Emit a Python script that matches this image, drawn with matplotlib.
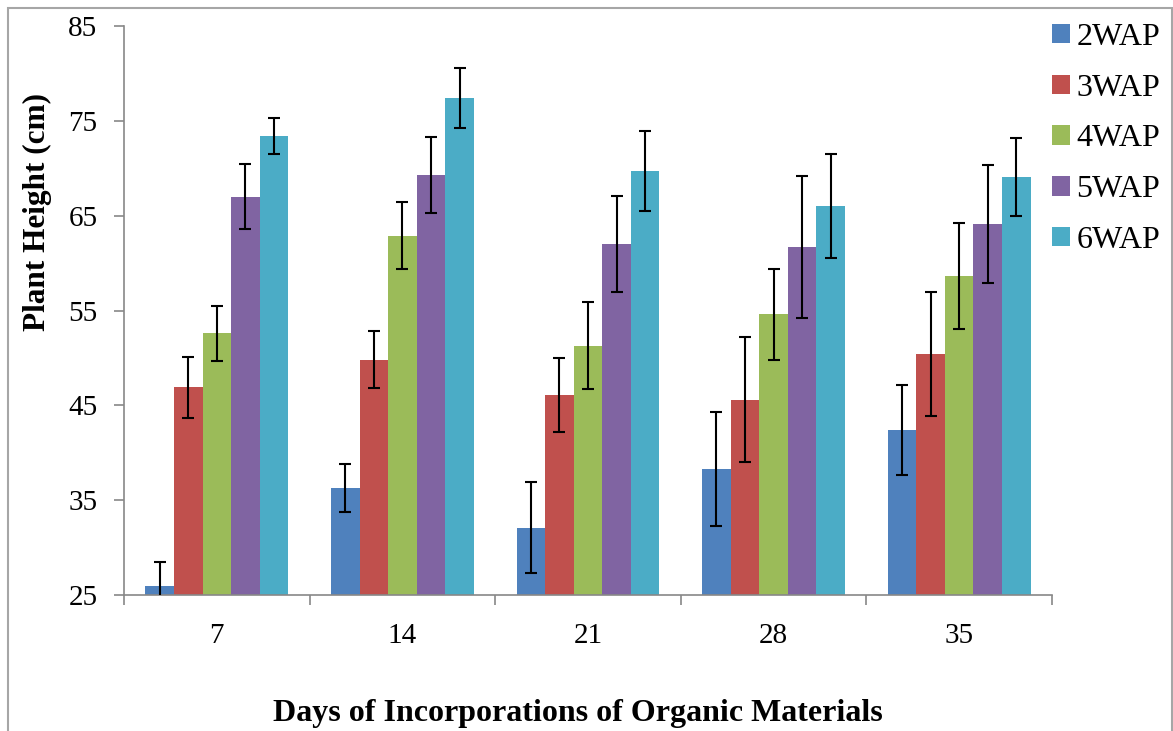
import numpy as np
import matplotlib
matplotlib.use("Agg")
import matplotlib.pyplot as plt
from matplotlib.patches import Rectangle

days = ["7", "14", "21", "28", "35"]
series = ["2WAP", "3WAP", "4WAP", "5WAP", "6WAP"]
colors = ["#4F81BD", "#C0504D", "#9BBB59", "#8064A2", "#4BACC6"]

wap2 = [26.0, 36.3, 32.1, 38.3, 42.4]
wap3 = [46.9, 49.8, 46.1, 45.6, 50.4]
wap4 = [52.6, 62.9, 51.3, 54.6, 58.6]
wap5 = [67.0, 69.3, 62.0, 61.7, 64.1]
wap6 = [73.4, 77.4, 69.7, 66.0, 69.1]

err2 = [2.5, 2.5, 4.8, 6.0, 4.7]
err3 = [3.2, 3.0, 3.9, 6.6, 6.5]
err4 = [2.9, 3.5, 4.6, 4.8, 5.6]
err5 = [3.4, 4.0, 5.1, 7.5, 6.2]
err6 = [1.9, 3.2, 4.2, 5.5, 4.1]

values = [wap2, wap3, wap4, wap5, wap6]
errors = [err2, err3, err4, err5, err6]

plt.rcParams['font.family'] = ['Liberation Serif', 'DejaVu Serif']

W, H = 1173, 731
fig = plt.figure(figsize=(W / 100, H / 100), dpi=100)
ax = fig.add_axes([124 / W, 1 - 595 / H, (1052 - 124) / W, (595 - 26) / H])

# outer chart frame
fig.patches.append(Rectangle((8 / W, -0.05), (1172 - 8) / W, 1 - 8 / H + 0.05,
                             transform=fig.transFigure, fill=False,
                             edgecolor='#a6a6a6', lw=1.5))

x = np.arange(len(days))
bw = 0.154
for i, (vals, errs) in enumerate(zip(values, errors)):
    pos = x + (i - 2) * bw
    ax.bar(pos, [v - 25 for v in vals], bw, bottom=25, color=colors[i],
           label=series[i], zorder=2)
    ax.errorbar(pos, vals, yerr=errs, fmt='none', ecolor='black',
                elinewidth=1.5, capsize=4.5, capthick=1.5, zorder=3)

ax.set_ylim(25, 85)
ax.set_xlim(-0.5, len(days) - 0.5)
ax.set_yticks(np.arange(25, 86, 10))
ax.set_xticks(x)
ax.set_xticklabels(days)
ax.set_xticks(np.arange(-0.5, len(days), 1), minor=True)

for s in ['top', 'right']:
    ax.spines[s].set_visible(False)
for s in ['left', 'bottom']:
    ax.spines[s].set_color('#888888')
    ax.spines[s].set_linewidth(1.2)

ax.tick_params(axis='y', length=7, width=1.2, color='#888888', pad=12,
               labelsize=21)
ax.tick_params(axis='x', which='major', length=0, pad=20, labelsize=21)
ax.tick_params(axis='x', which='minor', length=7, width=1.2, color='#888888')

fig.text(578 / W, 1 - 713 / H, "Days of Incorporations of Organic Materials",
         ha='center', va='center', fontsize=23, fontweight='bold')
fig.text(37 / W, 1 - 212 / H, "Plant Height (cm)", rotation=90,
         ha='center', va='center', fontsize=22.5, fontweight='bold')

leg = fig.legend(loc='upper left', bbox_to_anchor=(1052 / W, 1 - 23 / H),
                 frameon=False, fontsize=23, handlelength=0.56,
                 handleheight=0.56, handletextpad=0.2, labelspacing=0.68,
                 borderaxespad=0, borderpad=0)

fig.savefig("out.png", dpi=100)
